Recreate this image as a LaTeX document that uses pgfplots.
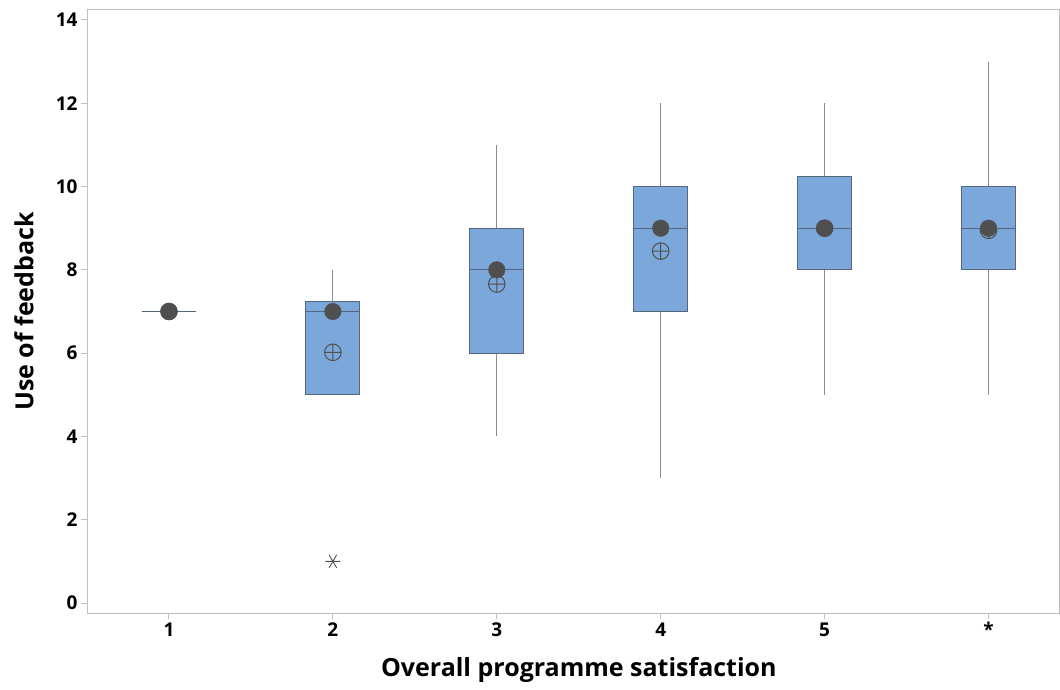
\documentclass[border=0pt]{standalone}
\usepackage{fontspec}
\setmainfont{Open Sans}
\usepackage{pgfplots}
\pgfplotsset{compat=1.18}
\usepgfplotslibrary{statistics}
\definecolor{boxfill}{RGB}{123,167,218}
\definecolor{boxedge}{RGB}{85,103,127}
\definecolor{dotc}{RGB}{79,79,79}
\definecolor{whisk}{RGB}{140,140,140}
\definecolor{framec}{RGB}{190,190,190}
\begin{document}
\begin{tikzpicture}[x=1pt,y=1pt]
\path[use as bounding box] (0,0) rectangle (1060,689);
\begin{axis}[
  at={(87pt,76pt)}, anchor=south west,
  scale only axis, width=972pt, height=603pt,
  xmin=0.5, xmax=6.43, ymin=-0.24, ymax=14.24,
  axis line style={framec, line width=1pt},
  xtick={1,2,3,4,5,6}, xticklabels={1,2,3,4,5,*},
  ytick={0,2,4,6,8,10,12,14},
  tick pos=left, tick align=outside,
  major tick length=6pt,
  tick style={framec, line width=1pt},
  ticklabel style={font=\bfseries\fontsize{19}{19}\selectfont, text=black},
  yticklabel style={/pgf/number format/assume math mode=true},
  xlabel={Overall programme satisfaction},
  ylabel={Use of feedback},
  label style={font=\bfseries\fontsize{25}{25}\selectfont},
  xlabel style={at={(axis description cs:0.506,-0.0945)}, anchor=center},
  ylabel style={at={(axis description cs:-0.0648,0.5)}, anchor=center},
  boxplot/draw direction=y,
  boxplot/box extend=0.33,
  boxplot/whisker extend=0,
  boxplot/every box/.style={draw=boxedge, fill=boxfill, line width=1pt},
  boxplot/every whisker/.style={draw=whisk, line width=1.2pt},
  boxplot/every median/.style={draw=boxedge, line width=1.2pt},
  clip=false,
]
\addplot[boxplot prepared={draw position=1, lower whisker=7, lower quartile=7, median=7, upper quartile=7, upper whisker=7},
  boxplot/every box/.style={draw=dotc, line width=1.5pt}] coordinates {};
\addplot[boxplot prepared={draw position=2, lower whisker=5, lower quartile=5, median=7, upper quartile=7.24, upper whisker=8}] coordinates {};
\addplot[boxplot prepared={draw position=3, lower whisker=4, lower quartile=6, median=8, upper quartile=9, upper whisker=11}] coordinates {};
\addplot[boxplot prepared={draw position=4, lower whisker=3, lower quartile=7, median=9, upper quartile=10, upper whisker=12}] coordinates {};
\addplot[boxplot prepared={draw position=5, lower whisker=5, lower quartile=8, median=9, upper quartile=10.25, upper whisker=12}] coordinates {};
\addplot[boxplot prepared={draw position=6, lower whisker=5, lower quartile=8, median=9, upper quartile=10, upper whisker=13}] coordinates {};
% means
\addplot[only marks, mark=oplus, mark size=8.3pt, mark options={draw=dotc, line width=1pt}] coordinates {
(1,7) (2,6.02) (3,7.66) (4,8.45) (5,9.0) (6,8.95)};
% medians
\addplot[only marks, mark=*, mark size=8.3pt, mark options={draw=dotc, fill=dotc}] coordinates {
(1,7) (2,7) (3,8) (4,9) (5,9) (6,9)};
% outlier
\addplot[only marks, mark=asterisk, mark size=7.5pt, mark options={draw=dotc, line width=0.9pt, rotate=90}] coordinates {(2,1)};
\end{axis}
\end{tikzpicture}
\end{document}
